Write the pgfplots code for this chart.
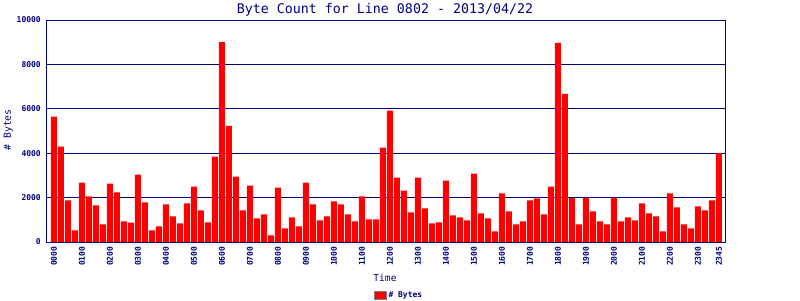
\documentclass[border=0pt]{standalone}
\usepackage{pgfplots}
\pgfplotsset{compat=1.18}
\usepackage{fontspec}
\setmainfont{DejaVu Sans Mono}
\definecolor{navyc}{RGB}{0,0,128}
\definecolor{barred}{RGB}{255,0,0}
\definecolor{bordergray}{RGB}{128,128,128}
\begin{document}
\begin{tikzpicture}
\useasboundingbox (-47pt,-58pt) rectangle (753pt,242pt);
\begin{axis}[
  scale only axis,
  width=678pt, height=222pt,
  xmin=-1, xmax=95.86,
  ymin=0, ymax=10000,
  ybar, bar width=6pt,
  axis line style={navyc, line width=1pt},
  ymajorgrids, grid style={navyc, line width=1pt},
  major tick length=0pt,
  tick style={draw=none},
  ytick={0,2000,4000,6000,8000,10000},
  scaled y ticks=false,
  /pgf/number format/assume math mode=true,
  /pgf/number format/1000 sep={},
  xtick={0,4,8,12,16,20,24,28,32,36,40,44,48,52,56,60,64,68,72,76,80,84,88,92,95},
  xticklabels={0000,0100,0200,0300,0400,0500,0600,0700,0800,0900,1000,1100,1200,1300,1400,1500,1600,1700,1800,1900,2000,2100,2200,2300,2345},
  ticklabel style={font=\fontsize{8}{9}\selectfont\bfseries, text=navyc},
  yticklabel style={anchor=east, inner sep=0pt, xshift=-6pt},
  xticklabel style={yshift=-4.5pt, rotate=90, anchor=east, inner sep=0pt},
  every axis title shift=0pt,
  title={Byte Count for Line 0802 - 2013/04/22},
  title style={at={(axis description cs:0.4985,1.0315)}, anchor=base, font=\fontsize{13.3}{15}\selectfont, text=navyc, inner sep=0pt},
  xlabel={Time},
  xlabel style={at={(axis description cs:0.4985,-0.180)}, anchor=base, font=\fontsize{9.6}{11}\selectfont, text=navyc, inner sep=0pt},
  ylabel={\# Bytes},
  ylabel style={at={(axis description cs:-0.0531,0.505)}, anchor=base, font=\fontsize{9.8}{11}\selectfont, text=navyc, inner sep=0pt},
  legend style={at={(axis description cs:0.519,-0.239)}, anchor=center, draw=none, fill=none, inner sep=0pt, font=\fontsize{8}{9}\selectfont\bfseries, text=navyc},
  legend image code/.code={\draw[draw=bordergray, line width=1pt, fill=barred] (0pt,-4pt) rectangle (12pt,4pt);},
]
\addplot[fill=barred, draw=none] coordinates {
(0,5650) (1,4300) (2,1870) (3,525) (4,2680) (5,2050) (6,1650) (7,795)
(8,2635) (9,2230) (10,930) (11,870) (12,3040) (13,1780) (14,525) (15,700)
(16,1690) (17,1150) (18,840) (19,1740) (20,2500) (21,1420) (22,885) (23,3850)
(24,9000) (25,5230) (26,2950) (27,1420) (28,2545) (29,1065) (30,1245) (31,300)
(32,2455) (33,615) (34,1110) (35,700) (36,2680) (37,1690) (38,975) (39,1150)
(40,1830) (41,1690) (42,1245) (43,930) (44,2050) (45,1020) (46,1020) (47,4250)
(48,5920) (49,2900) (50,2310) (51,1335) (52,2905) (53,1515) (54,840) (55,885)
(56,2770) (57,1200) (58,1110) (59,975) (60,3085) (61,1290) (62,1065) (63,480)
(64,2190) (65,1380) (66,795) (67,930) (68,1870) (69,1960) (70,1245) (71,2500)
(72,8970) (73,6670) (74,1990) (75,795) (76,1990) (77,1380) (78,930) (79,795)
(80,1990) (81,930) (82,1110) (83,975) (84,1740) (85,1290) (86,1150) (87,480)
(88,2190) (89,1560) (90,795) (91,615) (92,1600) (93,1420) (94,1870) (95,4000)
};
\addlegendentry{\# Bytes}
\end{axis}
\end{tikzpicture}
\end{document}
